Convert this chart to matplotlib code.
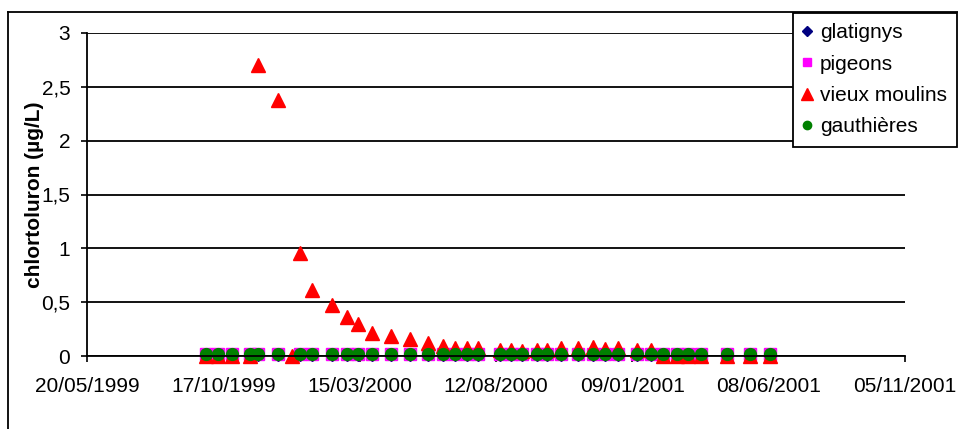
import matplotlib
matplotlib.use("Agg")
import matplotlib.pyplot as plt
import matplotlib.dates as mdates
from matplotlib.lines import Line2D
import numpy as np
import pandas as pd

plt.rcParams["font.family"] = ["Liberation Sans", "DejaVu Sans"]

# sampling dates (vieux moulins has one extra sample on 31/12/1999)
dates = [
    "1999-09-28", "1999-10-11", "1999-10-27", "1999-11-15", "1999-11-24",
    "1999-12-16", "1999-12-31", "2000-01-09", "2000-01-23", "2000-02-14",
    "2000-03-01", "2000-03-13", "2000-03-29", "2000-04-18", "2000-05-09",
    "2000-05-29", "2000-06-15", "2000-06-28", "2000-07-11", "2000-07-23",
    "2000-08-16", "2000-08-28", "2000-09-10", "2000-09-26", "2000-10-07",
    "2000-10-22", "2000-11-10", "2000-11-27", "2000-12-10", "2000-12-24",
    "2001-01-14", "2001-01-29", "2001-02-12", "2001-02-27", "2001-03-11",
    "2001-03-25", "2001-04-23", "2001-05-18", "2001-06-09",
]
nan = np.nan
glatignys = [0.01] * 6 + [nan] + [0.01] * 32
pigeons = [0.02] * 6 + [nan] + [0.02] * 32
vieux_moulins = [
    0.0, 0.0, 0.0, 0.0, 2.7,
    2.38, 0.0, 0.96, 0.61, 0.47,
    0.36, 0.30, 0.21, 0.19, 0.155,
    0.125, 0.093, 0.078, 0.078, 0.07,
    0.056, 0.056, 0.05, 0.056, 0.056,
    0.07, 0.07, 0.087, 0.065, 0.078,
    0.06, 0.06, 0.0, 0.0, 0.0,
    0.0, 0.0, 0.0, 0.0,
]
gauthieres = [0.02] * 6 + [nan] + [0.02] * 32

x_start = "1999-05-20"
x_end = "2001-11-05"
y_ticks = [0, 0.5, 1, 1.5, 2, 2.5, 3]
y_labels = ["0", "0,5", "1", "1,5", "2", "2,5", "3"]

FS = 15
x = pd.to_datetime(dates)
W, H = 958, 429
fig = plt.figure(figsize=(W / 100, H / 100), dpi=100)
ax = fig.add_axes([87 / W, 1 - 356 / H, 818 / W, 323 / H])

ax.plot(x, glatignys, linestyle="none", marker="D", ms=6.5, color="#000080",
        label="glatignys", clip_on=False)
ax.plot(x, pigeons, linestyle="none", marker="s", ms=8.5, color="#FF00FF",
        label="pigeons", clip_on=False)
ax.plot(x, vieux_moulins, linestyle="none", marker="^", ms=10, color="#FF0000",
        label="vieux moulins", clip_on=False)
ax.plot(x, gauthieres, linestyle="none", marker="o", ms=8.5, color="#008000",
        label="gauthières", clip_on=False)

ax.set_ylim(0, 3)
ax.set_yticks(y_ticks)
ax.set_yticklabels(y_labels)
ax.yaxis.grid(True, color="black", linewidth=1.3)
ax.set_axisbelow(True)

ticks = pd.date_range(x_start, x_end, freq="150D")
ax.set_xlim(pd.Timestamp(x_start), pd.Timestamp(x_end))
ax.set_xticks(ticks)
ax.xaxis.set_major_formatter(mdates.DateFormatter("%d/%m/%Y"))

for s in ["top", "right"]:
    ax.spines[s].set_visible(False)
for s in ["left", "bottom"]:
    ax.spines[s].set_linewidth(1.3)
ax.tick_params(axis="both", direction="out", length=4, width=1.2,
               labelsize=FS, colors="black")
ax.tick_params(axis="x", pad=11)
ax.tick_params(axis="y", pad=8)
ax.set_ylabel("chlortoluron (µg/L)", fontsize=FS, fontweight="bold")
ax.yaxis.set_label_coords((44 - 87) / 818, 0.5)

# outer chart border
fig.add_artist(Line2D([8 / W, 8 / W], [1 - 12 / H, 0], color="black", lw=1.3))
fig.add_artist(Line2D([8 / W, 1], [1 - 12 / H, 1 - 12 / H], color="black", lw=1.3))

leg = fig.legend(loc="upper right", bbox_to_anchor=(957 / W, 1 - 13 / H),
                 frameon=True, fancybox=False, edgecolor="black", framealpha=1,
                 fontsize=FS, handlelength=0.44,
                 handletextpad=0.4, labelspacing=0.6, borderpad=0.48,
                 borderaxespad=0)
leg.get_frame().set_linewidth(1.3)
for h, ms in zip(leg.legend_handles, [5.5, 6, 8, 6]):
    h.set_markersize(ms)

fig.savefig("out.png", dpi=100, facecolor="white")
